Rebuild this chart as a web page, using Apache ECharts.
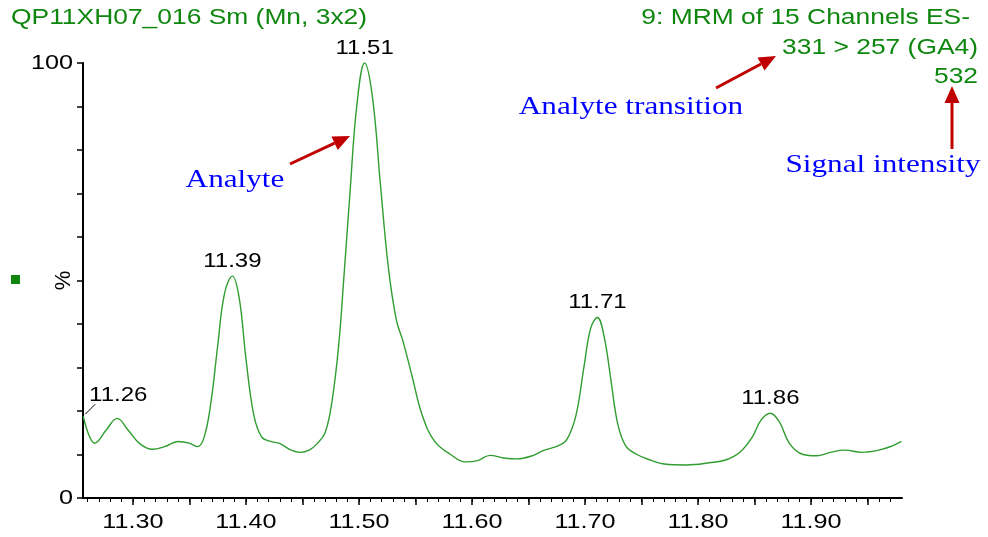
<!DOCTYPE html>
<html>
<head>
<meta charset="utf-8">
<script src="https://cdn.jsdelivr.net/npm/echarts@6/dist/echarts.min.js"></script>
<style>
  html, body { margin: 0; padding: 0; background: #fff; }
  #main { width: 988px; height: 537px; }
</style>
</head>
<body>
<div id="main"></div>
<script>
// retention time (min) and relative intensity (%)
const retTime = [
  11.256, 11.261, 11.266, 11.276, 11.286, 11.296, 11.306, 11.317, 11.328, 11.340,
  11.350, 11.357, 11.363, 11.369, 11.375, 11.381, 11.388, 11.394, 11.400, 11.407,
  11.414, 11.422, 11.430, 11.440, 11.448, 11.456, 11.463, 11.470, 11.476, 11.482,
  11.487, 11.492, 11.498, 11.505, 11.512, 11.519, 11.526, 11.533, 11.539, 11.547,
  11.556, 11.567, 11.581, 11.594, 11.605, 11.616, 11.628, 11.640, 11.652, 11.664,
  11.676, 11.684, 11.692, 11.699, 11.705, 11.711, 11.717, 11.723, 11.729, 11.736,
  11.746, 11.758, 11.770, 11.790, 11.810, 11.825, 11.837, 11.848, 11.856, 11.864,
  11.872, 11.881, 11.893, 11.905, 11.917, 11.930, 11.945, 11.960, 11.972, 11.980
];
const intensity = [
  18.8, 14.5, 12.6, 15.5, 18.3, 15.5, 12.5, 11.2, 11.8, 13.0,
  12.6, 11.8, 14, 22, 35, 47, 51, 46, 32, 19,
  14, 13, 12.5, 11, 10.5, 11, 12.5, 15, 22, 35,
  52, 70, 90, 100, 92, 72, 53, 41, 36, 28,
  19, 13, 10, 8.3, 8.6, 9.8, 9.2, 9.0, 9.6, 11,
  12, 13.5, 19, 30, 39, 41.5, 37, 27, 17, 12,
  10, 8.7, 7.8, 7.6, 8.1, 8.8, 10.5, 14, 18, 19.5,
  17.5, 12.5, 10, 9.7, 10.5, 11, 10.5, 11, 12, 13
];

// apexes that carry a retention-time label
const peakTime  = [11.256, 11.388, 11.505, 11.711, 11.864];
const peakValue = [18.8, 51, 100, 41.5, 19.5];
const peakText  = ['11.26', '11.39', '11.51', '11.71', '11.86'];

const xLabelValues = [11.30, 11.40, 11.50, 11.60, 11.70, 11.80, 11.90];
const xMajorTicks = [11.30, 11.35, 11.40, 11.45, 11.50, 11.55, 11.60, 11.65, 11.70, 11.75, 11.80, 11.85, 11.90, 11.95];
const xMinorTicks = [];
for (let i = 26; i <= 97; i++) xMinorTicks.push(+(11 + i / 100).toFixed(2));
const yLabelValues = [0, 100];

const xMin = 11.2558, xMax = 11.9805;
const green = '#0f870f';
const sans = 'Liberation Sans';
const serif = 'Liberation Serif';
const SX = 1.2; // the original is stretched sideways

const chart = echarts.init(document.getElementById('main'));

chart.setOption({
  animation: false,
  grid: { left: 83, top: 63, right: 86, bottom: 39, containLabel: false },
  xAxis: [{
    type: 'value', min: xMin, max: xMax,
    axisLine: { lineStyle: { color: '#000', width: 2 } },
    axisTick: { customValues: xMajorTicks, length: 7, lineStyle: { color: '#000', width: 1.5 } },
    axisLabel: { show: false },
    splitLine: { show: false }
  }, {
    type: 'value', min: xMin, max: xMax, position: 'bottom',
    axisLine: { show: false },
    axisTick: { customValues: xMinorTicks, length: 4, lineStyle: { color: '#000', width: 1 } },
    axisLabel: { show: false },
    splitLine: { show: false }
  }],
  yAxis: {
    type: 'value', min: 0, max: 100, interval: 10,
    name: '%', nameLocation: 'middle', nameRotate: 90, nameGap: 8,
    nameTextStyle: { color: '#000', fontSize: 22, fontFamily: sans },
    axisLine: { show: true, lineStyle: { color: '#000', width: 2 } },
    axisTick: { show: true, length: 6, lineStyle: { color: '#000', width: 1.5 } },
    axisLabel: { show: false },
    splitLine: { show: false }
  },
  series: [{
    type: 'line',
    xAxisIndex: 0,
    data: retTime.map((t, i) => [t, intensity[i]]),
    smooth: 0.4,
    showSymbol: false,
    lineStyle: { color: '#2f9d2f', width: 1.4 }
  }]
});

const px = (t, v) => chart.convertToPixel({ xAxisIndex: 0, yAxisIndex: 0 }, [t, v]);

function txt(x, y, s, opt) {
  return {
    type: 'text', x: x, y: y, scaleX: SX, silent: true,
    style: Object.assign({
      text: s, fill: '#000', fontSize: 20, fontFamily: sans,
      textAlign: 'center', textVerticalAlign: 'middle'
    }, opt || {})
  };
}

function arrow(x1, y1, x2, y2) {
  const a = Math.atan2(y2 - y1, x2 - x1), L = 17, W = 7.5;
  const bx = x2 - L * Math.cos(a), by = y2 - L * Math.sin(a);
  const nx = -Math.sin(a) * W, ny = Math.cos(a) * W;
  return [
    { type: 'line', silent: true, shape: { x1: x1, y1: y1, x2: bx, y2: by },
      style: { stroke: '#c00000', lineWidth: 3 } },
    { type: 'polygon', silent: true,
      shape: { points: [[x2, y2], [bx + nx, by + ny], [bx - nx, by - ny]] },
      style: { fill: '#c00000' } }
  ];
}

const g = [];
// tick labels
xLabelValues.forEach(v => {
  const p = px(v, 0);
  g.push(txt(p[0], p[1] + 24, v.toFixed(2), { fontSize: 21 }));
});
yLabelValues.forEach(v => {
  const p = px(xMin, v);
  g.push(txt(p[0] - 10, p[1], String(v), { textAlign: 'right', fontSize: 21 }));
});
// peak labels
peakTime.forEach((t, i) => {
  const p = px(t, peakValue[i]);
  if (i === 0) {
    g.push({ type: 'line', silent: true,
      shape: { x1: p[0] + 2, y1: p[1] - 2, x2: p[0] + 12, y2: p[1] - 12 },
      style: { stroke: '#000', lineWidth: 1 } });
    g.push(txt(p[0] + 35, p[1] - 21, peakText[i]));
  } else {
    g.push(txt(p[0], p[1] - 15, peakText[i]));
  }
});
// header texts
g.push(txt(11, 18, 'QP11XH07_016 Sm (Mn, 3x2)', { fill: green, fontSize: 22, textAlign: 'left' }));
g.push(txt(970, 18, '9: MRM of 15 Channels ES-', { fill: green, fontSize: 22, textAlign: 'right' }));
g.push(txt(978, 48, '331 > 257 (GA4)', { fill: green, fontSize: 22, textAlign: 'right' }));
g.push(txt(978, 77, '532', { fill: green, fontSize: 22, textAlign: 'right' }));
g.push({ type: 'rect', silent: true, shape: { x: 11, y: 275, width: 9, height: 9 }, style: { fill: green } });
// annotations
g.push(txt(631, 107, 'Analyte transition', { fill: '#0000ff', fontSize: 26, fontFamily: serif }));
g.push(txt(883, 165, 'Signal intensity', { fill: '#0000ff', fontSize: 26, fontFamily: serif }));
g.push(txt(235, 180, 'Analyte', { fill: '#0000ff', fontSize: 26, fontFamily: serif }));
g.push(...arrow(716, 88, 776, 56));
g.push(...arrow(952, 149, 952, 86));
g.push(...arrow(290, 164, 350, 136));

chart.setOption({ graphic: g });
</script>
</body>
</html>
